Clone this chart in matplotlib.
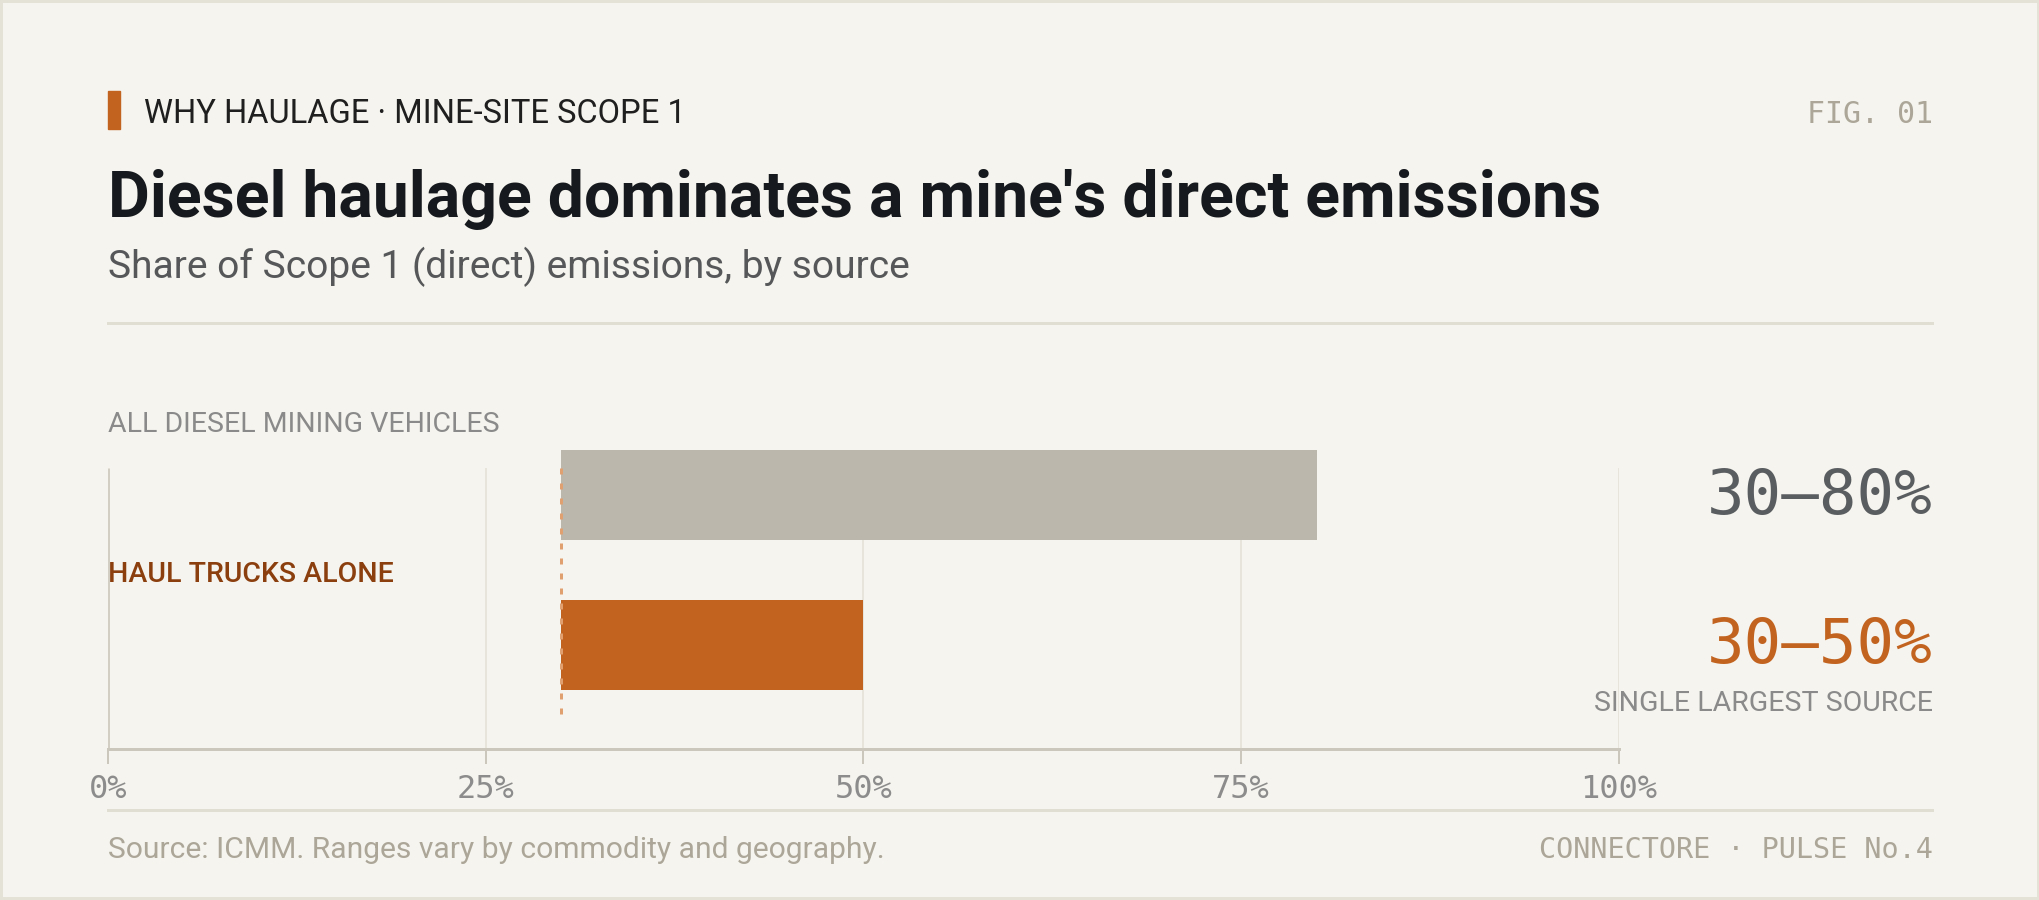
import matplotlib
matplotlib.use("Agg")
import matplotlib.pyplot as plt
from matplotlib.patches import Rectangle
from matplotlib.lines import Line2D

# ---- data -----------------------------------------------------------
sources = ["ALL DIESEL MINING VEHICLES", "HAUL TRUCKS ALONE"]
share_low = [30, 30]
share_high = [80, 50]
bar_colors = ["#BBB7AD", "#C2631F"]
value_colors = ["#5A5D60", "#C2631F"]
x_ticks = [0, 25, 50, 75, 100]
tick_labels = ["0%", "25%", "50%", "75%", "100%"]

# ---- layout helpers (pixel coords, origin top-left) -----------------
W, H = 2040, 900
BG = "#F5F4EE"
EDGE = "#E4E1D6"
SANS = ["Roboto", "DejaVu Sans"]
MONO = ["DejaVu Sans Mono"]


def fx(x):
    return x / W


def fy(y):
    return 1 - y / H


def px(n):
    return n * 0.72


fig = plt.figure(figsize=(W / 100, H / 100), dpi=100, facecolor=EDGE)
fig.add_artist(Rectangle((fx(3), fy(897)), fx(2034), (894) / H,
                         transform=fig.transFigure, facecolor=BG,
                         edgecolor="none", zorder=0))

# kicker
fig.add_artist(Rectangle((fx(108), fy(129)), fx(12), 38 / H,
                         transform=fig.transFigure, color="#C2631F"))
fig.text(fx(144), fy(123), "WHY HAULAGE \u00b7 MINE-SITE SCOPE 1",
         family=SANS, size=23.5, color="#1F1F1F", va="baseline")
fig.text(fx(1933), fy(123), "FIG. 01", family=MONO, size=21.5,
         color="#ABA698", ha="right", va="baseline")

renderer = fig.canvas.get_renderer()


def fit(t, width):
    w = t.get_window_extent(renderer).width
    t.set_fontsize(t.get_fontsize() * width / w)


title = fig.text(fx(108), fy(217),
                 "Diesel haulage dominates a mine's direct emissions",
                 family=SANS, size=45, weight="bold", color="#16191D",
                 va="baseline")
fit(title, 1496)
sub = fig.text(fx(108), fy(278),
               "Share of Scope 1 (direct) emissions, by source",
               family=SANS, size=25, color="#555759", va="baseline")
fit(sub, 805)

for yy in (323, 810):
    fig.add_artist(Line2D([fx(108), fx(1932)], [fy(yy), fy(yy)],
                          transform=fig.transFigure, color="#E0DDD3",
                          lw=px(3)))

# ---- chart ----------------------------------------------------------
ax = fig.add_axes([fx(108), fy(749), fx(1619) - fx(108), (749 - 420) / H])
ax.patch.set_alpha(0)
y_bottom = (749 - 495) / 150
y_grid = (468 - 495) / 150
ax.set_xlim(0, 100)
ax.set_ylim(y_bottom, -0.5)

ypos = list(range(len(sources)))
ax.vlines(x_ticks[1:], y_grid, y_bottom, colors="#E7E4DB", lw=px(2),
          zorder=0)
ax.vlines(x_ticks[0], y_grid, y_bottom, colors="#D3CEC3", lw=px(3),
          zorder=1)
widths = [h - l for l, h in zip(share_low, share_high)]
ax.barh(ypos, widths, left=share_low, height=0.6, color=bar_colors,
        zorder=2)
ax.vlines(share_low[0], y_grid, (714 - 495) / 150, colors="#E0A070",
          lw=px(3), linestyles=(0, (2, 3)), zorder=3)

for s in ["top", "left", "right"]:
    ax.spines[s].set_visible(False)
ax.spines["bottom"].set_color("#CCC7BC")
ax.spines["bottom"].set_linewidth(px(3))
ax.set_yticks([])
ax.set_xticks(x_ticks)
ax.set_xticklabels(tick_labels, family=MONO)
ax.tick_params(axis="x", length=15 * 0.72, width=px(2), color="#CCC7BC",
               pad=7, labelsize=23, labelcolor="#8C8C8C")

# category labels
fig.text(fx(108), fy(432), sources[0], family=SANS, size=20.5,
         color="#8A8A8A", va="baseline")
fig.text(fx(108), fy(582), sources[1], family=SANS, size=20.5,
         weight="medium", color="#8B3E0E", va="baseline")

# value labels
for i, yb in enumerate((514, 663)):
    fig.text(fx(1933), fy(yb), f"{share_low[i]}\u2013{share_high[i]}%",
             family=MONO, size=45, color=value_colors[i], ha="right",
             va="baseline")
fig.text(fx(1933), fy(711), "SINGLE LARGEST SOURCE", family=SANS,
         size=20.5, color="#8A8A8A", ha="right", va="baseline")

# footer
src = fig.text(fx(108), fy(858),
               "Source: ICMM. Ranges vary by commodity and geography.",
               family=SANS, size=20, color="#ABA698", va="baseline")
fit(src, 776)
fig.text(fx(1933), fy(858), "CONNECTORE \u00b7 PULSE No.4", family=MONO,
         size=20.5, color="#ABA698", ha="right", va="baseline")

fig.savefig("out.png", dpi=100, facecolor=fig.get_facecolor())
